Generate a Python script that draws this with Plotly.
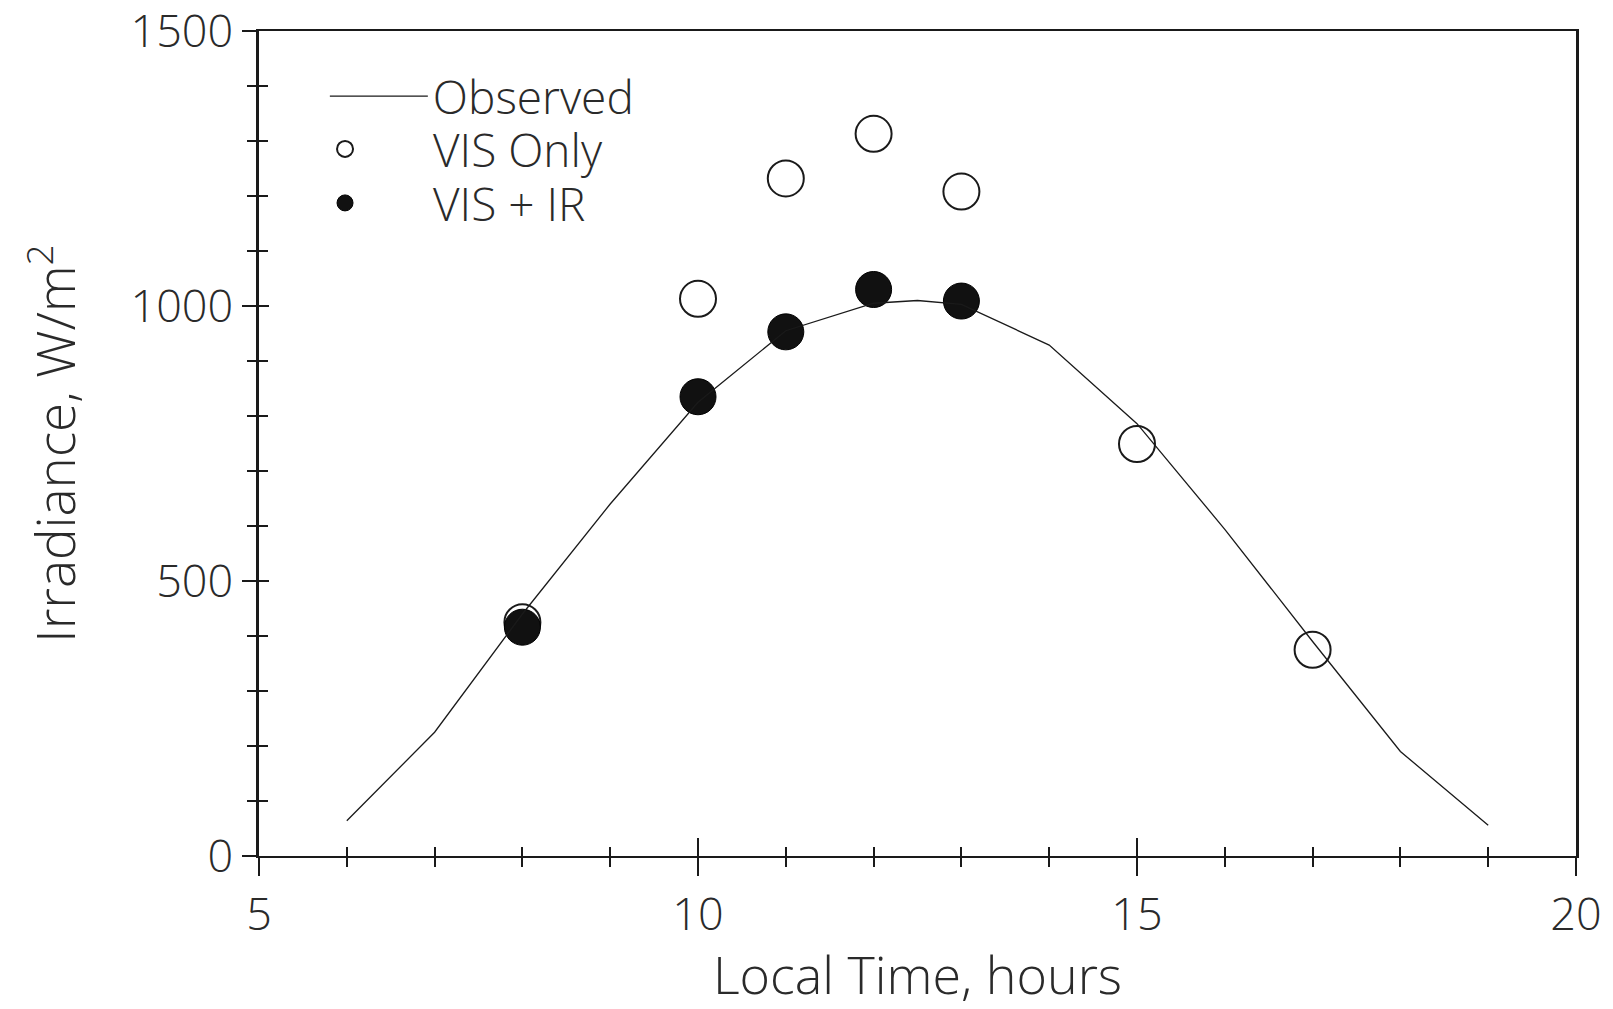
import plotly.graph_objects as go

# Observed irradiance curve (hourly), W/m^2
obs_hours = [6, 7, 8, 9, 10, 11, 12, 12.5, 13, 14, 15, 16, 17, 18, 19]
obs_vals = [64, 225, 440, 640, 825, 955, 1005, 1010, 1003, 929, 786, 594, 390, 190, 56]

# VIS only estimates
vis_hours = [8, 10, 11, 12, 13, 15, 17]
vis_vals = [425, 1013, 1232, 1313, 1208, 749, 375]

# VIS + IR estimates
visir_hours = [8, 10, 11, 12, 13]
visir_vals = [416, 835, 953, 1030, 1009]

x_ticks = [5, 10, 15, 20]
y_ticks = [0, 500, 1000, 1500]

FONT = "Open Sans, sans-serif"
INK = "#1a1a1a"
TXT = "#2a2a2a"

fig = go.Figure()
# Observed curve drawn on overlay axes (which carry the inner tick marks)
fig.add_trace(go.Scatter(x=obs_hours, y=obs_vals, mode="lines", name="Observed",
                         xaxis="x2", yaxis="y2", legend="legend",
                         line=dict(color=INK, width=1.3)))
fig.add_trace(go.Scatter(x=vis_hours, y=vis_vals, mode="markers", name="VIS Only",
                         legend="legend2",
                         marker=dict(symbol="circle-open", size=36, color=INK,
                                     line=dict(width=2, color=INK))))
fig.add_trace(go.Scatter(x=visir_hours, y=visir_vals, mode="markers", name="VIS + IR",
                         legend="legend3",
                         marker=dict(symbol="circle", size=36, color="#111",
                                     line=dict(width=1, color="#000"))))

axis_common = dict(showgrid=False, zeroline=False, linecolor=INK, tickcolor=INK,
                   automargin=False)
leg_font = dict(size=46, family=FONT, color=TXT, weight=300)
leg_common = dict(xanchor="left", yanchor="middle", bgcolor="rgba(0,0,0,0)",
                  font=leg_font, tracegroupgap=0)

fig.update_layout(
    width=1613, height=1009,
    margin=dict(l=259, r=37, t=31, b=153),
    paper_bgcolor="white", plot_bgcolor="white",
    font=dict(family=FONT, color=TXT, size=44, weight=300),
    showlegend=True,
    legend=dict(x=0.050, y=0.921, itemwidth=98, **leg_common),
    legend2=dict(x=-0.0015, y=0.857, itemwidth=166, **leg_common),
    legend3=dict(x=-0.0015, y=0.7915, itemwidth=166, **leg_common),
    xaxis=dict(range=[5, 20], tickvals=x_ticks, ticktext=[str(v) for v in x_ticks],
               ticks="outside", ticklen=18, tickwidth=2, showline=True, linewidth=2,
               mirror=True,
               minor=dict(dtick=1, ticks="outside", ticklen=9, tickwidth=1.5, tickcolor=INK),
               tickfont=dict(size=45, family=FONT, color=TXT, weight=300),
               ticklabeloverflow="allow",
               title=dict(text="Local Time, hours",
                          font=dict(size=52, family=FONT, color=TXT, weight=300),
                          standoff=51),
               **axis_common),
    yaxis=dict(range=[0, 1500], tickvals=y_ticks, ticktext=[str(v) for v in y_ticks],
               ticks="outside", ticklen=14, tickwidth=2, showline=True, linewidth=2.5,
               mirror=True,
               minor=dict(dtick=100, ticks="outside", ticklen=9, tickwidth=1.5, tickcolor=INK),
               tickfont=dict(size=45, family=FONT, color=TXT, weight=300),
               ticklabeloverflow="allow",
               title=dict(text="Irradiance, W/m<sup>2</sup>",
                          font=dict(size=53, family=FONT, color=TXT, weight=300), standoff=38),
               **axis_common),
    xaxis2=dict(range=[5, 20], overlaying="x", anchor="y2", side="bottom",
                tickvals=x_ticks, showticklabels=False, ticks="inside", ticklen=18,
                tickwidth=2, showline=False,
                minor=dict(dtick=1, ticks="inside", ticklen=9, tickwidth=1.5, tickcolor=INK),
                **axis_common),
    yaxis2=dict(range=[0, 1500], overlaying="y", anchor="x2", side="left",
                tickvals=y_ticks, showticklabels=False, ticks="inside", ticklen=10,
                tickwidth=2, showline=False,
                minor=dict(dtick=100, ticks="inside", ticklen=9, tickwidth=1.5, tickcolor=INK),
                **axis_common),
)

fig.write_html("out.html", config={"displayModeBar": False},
               post_script="document.body.style.margin='0';document.body.style.overflow='hidden';")
